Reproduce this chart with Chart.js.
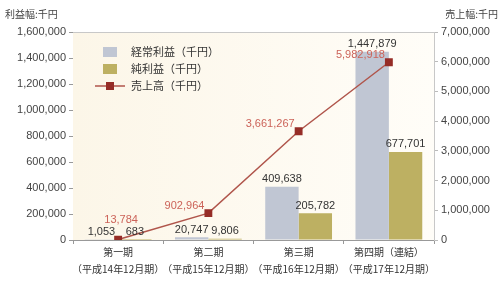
<!DOCTYPE html>
<html>
<head>
<meta charset="utf-8">
<script src="https://cdn.jsdelivr.net/npm/chart.js@4"></script>
<style>
  html, body { margin: 0; padding: 0; background: #fff; }
  #wrap { width: 501px; height: 283px; }
</style>
</head>
<body>
<div id="wrap"><canvas id="chart" width="501" height="283"></canvas></div>
<script>
const periods = [
  ['第一期', '（平成14年12月期）'],
  ['第二期', '（平成15年12月期）'],
  ['第三期', '（平成16年12月期）'],
  ['第四期（連結）', '（平成17年12月期）'],
];
const ordinaryProfit = [1053, 20747, 409638, 1447879];
const netProfit = [683, 9806, 205782, 677701];
const sales = [13784, 902964, 3661267, 5982918];
const seriesNames = ['経常利益（千円）', '純利益（千円）', '売上高（千円）'];
const leftTitle = '利益幅:千円';
const rightTitle = '売上幅:千円';

const FONT = '"Noto Sans CJK JP", "Noto Sans", sans-serif';
const NUMFONT = 'Arial, "Liberation Sans", sans-serif';
const fmt = v => v.toLocaleString('en-US');

const decorPlugin = {
  id: 'decor',
  beforeDatasetsDraw(chart) {
    const { ctx, chartArea: a } = chart;
    ctx.save();
    const g = ctx.createLinearGradient(a.left, 0, a.right, 0);
    g.addColorStop(0, '#fcf6e8');
    g.addColorStop(1, '#fffdf8');
    ctx.fillStyle = g;
    ctx.fillRect(a.left, a.top, a.right - a.left, a.bottom - a.top);
    ctx.strokeStyle = '#c8c8c8';
    ctx.lineWidth = 1;
    ctx.beginPath();
    ctx.moveTo(a.left, a.top + 0.5);
    ctx.lineTo(a.right, a.top + 0.5);
    ctx.stroke();
    ctx.restore();
  },
  afterDatasetsDraw(chart) {
    const { ctx, chartArea: a } = chart;
    ctx.save();
    ctx.font = '11px ' + NUMFONT;
    ctx.textBaseline = 'bottom';
    // bar value labels
    [0, 1].forEach(di => {
      const meta = chart.getDatasetMeta(di);
      meta.data.forEach((bar, i) => {
        ctx.fillStyle = '#333';
        ctx.textAlign = 'center';
        ctx.fillText(fmt(chart.data.datasets[di].data[i]), bar.x, bar.y - 2);
      });
    });
    // line value labels
    const lm = chart.getDatasetMeta(2);
    ctx.fillStyle = '#cc6359';
    lm.data.forEach((pt, i) => {
      const v = fmt(chart.data.datasets[2].data[i]);
      if (i === 0) {
        ctx.textAlign = 'center';
        ctx.fillText(v, pt.x + 3, pt.y - 14);
      } else {
        ctx.textAlign = 'right';
        ctx.fillText(v, pt.x - 4, pt.y - 2);
      }
    });
    // legend
    const lx = a.left + 30, ly = a.top + 20;
    ctx.textAlign = 'left';
    ctx.textBaseline = 'middle';
    ctx.font = '11px ' + FONT;
    const cols = ['#c0c6d3', '#bdb062'];
    for (let k = 0; k < 3; k++) {
      const y = ly + k * 17;
      if (k < 2) {
        ctx.fillStyle = cols[k];
        ctx.fillRect(lx, y - 5, 14, 10);
      } else {
        ctx.strokeStyle = '#b0554b';
        ctx.lineWidth = 1.5;
        ctx.beginPath();
        ctx.moveTo(lx - 8, y);
        ctx.lineTo(lx + 22, y);
        ctx.stroke();
        ctx.fillStyle = '#962d27';
        ctx.fillRect(lx + 3, y - 4, 8, 8);
      }
      ctx.fillStyle = '#333';
      ctx.fillText(seriesNames[k], lx + 28, y);
    }
    // axis titles
    ctx.font = '10px ' + FONT;
    ctx.fillStyle = '#444';
    ctx.textAlign = 'left';
    ctx.fillText(leftTitle, 5, 14);
    ctx.textAlign = 'right';
    ctx.fillText(rightTitle, 498, 14);
    ctx.restore();
  }
};

new Chart(document.getElementById('chart'), {
  data: {
    labels: periods,
    datasets: [
      {
        type: 'bar',
        label: seriesNames[0],
        data: ordinaryProfit,
        backgroundColor: '#c0c6d3',
        yAxisID: 'y',
        categoryPercentage: 0.74,
        barPercentage: 1,
        order: 2,
      },
      {
        type: 'bar',
        label: seriesNames[1],
        data: netProfit,
        backgroundColor: '#bdb062',
        yAxisID: 'y',
        categoryPercentage: 0.74,
        barPercentage: 1,
        order: 2,
      },
      {
        type: 'line',
        label: seriesNames[2],
        data: sales,
        borderColor: '#b0554b',
        borderWidth: 1.5,
        pointStyle: 'rect',
        pointRadius: 4.5,
        pointBackgroundColor: '#962d27',
        pointBorderColor: '#962d27',
        yAxisID: 'y1',
        order: 1,
      },
    ],
  },
  options: {
    responsive: false,
    animation: false,
    layout: { padding: { top: 32, left: 0, right: 0, bottom: 0 } },
    plugins: { legend: { display: false }, tooltip: { enabled: false } },
    scales: {
      x: {
        grid: { drawOnChartArea: false, tickLength: 4, color: '#999' },
        border: { color: '#999' },
        ticks: {
          color: '#333',
          font: { family: FONT, size: 10, lineHeight: 1.7 },
          padding: 0,
          maxRotation: 0,
          autoSkip: false,
        },
        afterFit(s) { s.height = 43; },
      },
      y: {
        position: 'left',
        min: 0,
        max: 1600000,
        ticks: {
          stepSize: 200000,
          color: '#444',
          font: { family: NUMFONT, size: 11 },
          padding: 3,
          callback: v => fmt(v),
        },
        grid: { drawOnChartArea: false, tickLength: 4, color: '#999' },
        border: { color: '#999' },
        afterFit(s) { s.width = 73; },
      },
      y1: {
        position: 'right',
        min: 0,
        max: 7000000,
        ticks: {
          stepSize: 1000000,
          color: '#444',
          font: { family: NUMFONT, size: 11 },
          padding: 3,
          callback: v => fmt(v),
        },
        grid: { drawOnChartArea: false, tickLength: 4, color: '#bbb' },
        border: { color: '#c8c8c8' },
        afterFit(s) { s.width = 67; },
      },
    },
  },
  plugins: [decorPlugin],
});
</script>
</body>
</html>
